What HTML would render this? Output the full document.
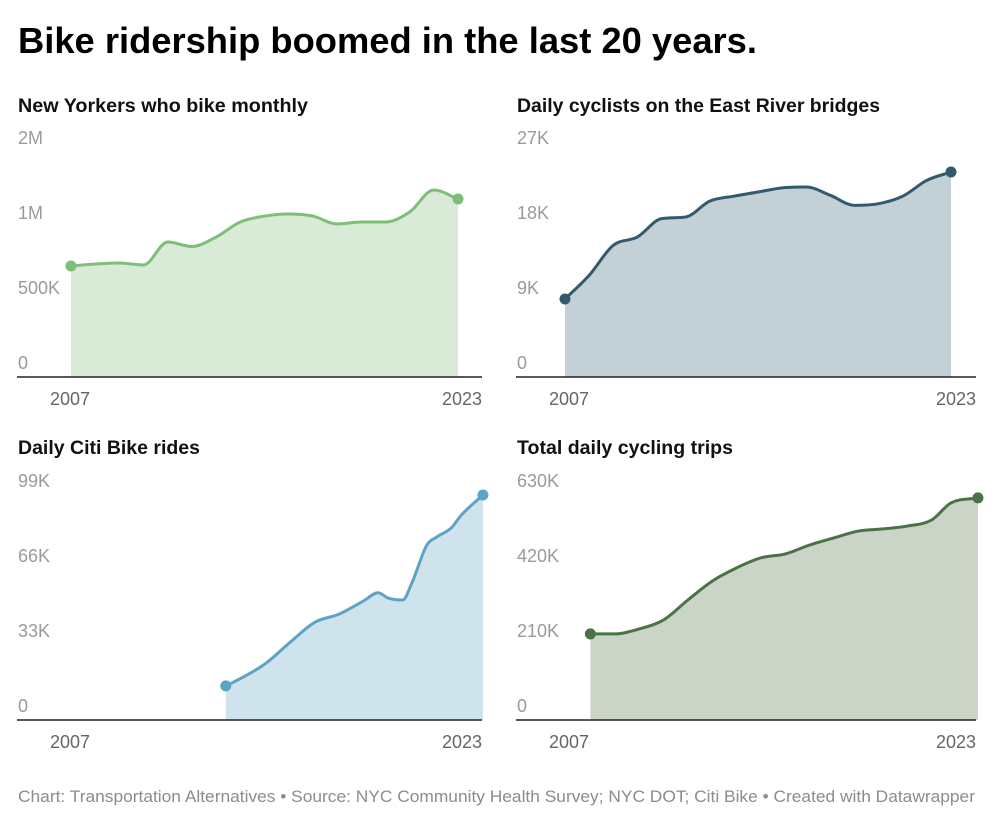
<!DOCTYPE html>
<html><head><meta charset="utf-8"><style>
body{margin:0;background:#fff;}
svg{display:block;font-family:"Liberation Sans",sans-serif;}
</style></head><body>
<svg id="s" width="1000" height="824" viewBox="0 0 1000 824">
<text x="18" y="53" font-size="36" font-weight="bold" fill="#000" textLength="739" lengthAdjust="spacingAndGlyphs">Bike ridership boomed in the last 20 years.</text>
<text x="18" y="802" font-size="17" fill="#8c8c8c" textLength="957" lengthAdjust="spacingAndGlyphs">Chart: Transportation Alternatives • Source: NYC Community Health Survey; NYC DOT; Citi Bike • Created with Datawrapper</text>
</svg>
<script>
const p1Years=[2007,2008,2009,2010,2011,2012,2013,2014,2015,2016,2017,2018,2019,2020,2021,2022,2023];
const p1Values=[740000,753000,760000,747000,900000,870000,933000,1033000,1073000,1087000,1073000,1020000,1033000,1033000,1100000,1247000,1187000];
const p1Ticks=[0,500000,1000000,1500000];
const p1TickLabels=["0","500K","1M","2M"];
const p2Years=[2007,2008,2009,2010,2011,2012,2013,2014,2015,2016,2017,2018,2019,2020,2021,2022,2023];
const p2Values=[9360,12200,15800,16800,19000,19200,21100,21700,22200,22700,22800,21800,20600,20800,21700,23600,24600];
const p2Ticks=[0,9000,18000,27000];
const p2TickLabels=["0","9K","18K","27K"];
const p3Years=[2013.35,2014,2015,2016,2017,2018,2019,2019.6,2020,2020.6,2021,2021.6,2022,2022.6,2023,2023.9];
const p3Values=[15000,18500,25000,34300,43000,46600,52400,56000,53700,52800,60700,77000,80500,84500,90000,99000];
const p3Ticks=[0,33000,66000,99000];
const p3TickLabels=["0","33K","66K","99K"];
const p4Years=[2008,2009,2010,2011,2012,2013,2014,2015,2016,2017,2018,2019,2020,2021,2022,2022.8,2023.9];
const p4Values=[241000,241000,255000,280000,336000,389000,426000,454000,465000,490000,510000,529000,535000,543000,560000,608000,622000];
const p4Ticks=[0,210000,420000,630000];
const p4TickLabels=["0","210K","420K","630K"];

const NS="http://www.w3.org/2000/svg";
const svg=document.getElementById('s');
function mk(tag,attrs,parent){const e=document.createElementNS(NS,tag);for(const k in attrs)e.setAttribute(k,attrs[k]);(parent||svg).appendChild(e);return e;}

function monotone(pts){
  const n=pts.length;if(n<2)return "";
  const d=[],m=[];
  for(let i=0;i<n-1;i++)d.push((pts[i+1][1]-pts[i][1])/(pts[i+1][0]-pts[i][0]));
  m[0]=d[0];m[n-1]=d[n-2];
  for(let i=1;i<n-1;i++){m[i]=(d[i-1]*d[i]<=0)?0:(d[i-1]+d[i])/2;}
  for(let i=0;i<n-1;i++){if(d[i]===0){m[i]=0;m[i+1]=0;continue;}const a=m[i]/d[i],b=m[i+1]/d[i],s=a*a+b*b;if(s>9){const t=3/Math.sqrt(s);m[i]=t*a*d[i];m[i+1]=t*b*d[i];}}
  let p="M"+pts[0][0]+","+pts[0][1];
  for(let i=0;i<n-1;i++){const h=(pts[i+1][0]-pts[i][0])/3;
    p+=" C"+(pts[i][0]+h)+","+(pts[i][1]+m[i]*h)+" "+(pts[i+1][0]-h)+","+(pts[i+1][1]-m[i+1]*h)+" "+pts[i+1][0]+","+pts[i+1][1];}
  return p;
}

function panel(o){
  const g=mk('g',{});
  
  
  const t=mk('text',{x:o.left,y:o.top+14,'font-size':19.5,'font-weight':'bold',fill:'#111',textLength:o.titleLen,lengthAdjust:'spacingAndGlyphs'},g);t.textContent=o.title;
  
  
  const x=v=>o.x0+(v-2007)*(o.x1-o.x0)/16;
  const y=v=>o.base-v*o.pxPerUnit;
  const pts=o.years.map((yr,i)=>[x(yr),y(o.values[i])]);
  const line=monotone(pts);
  const area=mk('path',{d:line+" L"+pts[pts.length-1][0]+","+o.base+" L"+pts[0][0]+","+o.base+" Z",fill:o.fill},g);
  
  
  const ln=mk('path',{d:line,fill:'none',stroke:o.color,'stroke-width':3},g);
  
  
  [pts[0],pts[pts.length-1]].forEach((p,i)=>{const c=mk('circle',{cx:p[0],cy:p[1],r:5.5,fill:o.color},g);
    
    });
  o.ticks.forEach((tv,i)=>{const tt=mk('text',{x:o.left,y:y(tv)-8,'font-size':18,fill:'#9a9a9a'},g);tt.textContent=o.tickLabels[i];
    
    });
  const ax=mk('line',{x1:o.left-1,x2:o.right,y1:o.base,y2:o.base,stroke:'#222','stroke-width':1.5},g);
  
  
  [[2007,'start'],[2023,'end']].forEach(([yr,anc])=>{const lx=anc==='start'?o.left+32:o.right;const tt=mk('text',{x:lx,y:o.base+28,'font-size':18,fill:'#666','text-anchor':anc},g);tt.textContent=yr;
    
    });
}
panel({name:'new-yorkers-bike-monthly',title:'New Yorkers who bike monthly',titleLen:290,left:18,right:482,top:98,base:377,x0:71,x1:458,pxPerUnit:75/500000,years:p1Years,values:p1Values,ticks:p1Ticks,tickLabels:p1TickLabels,color:'#7dbf78',fill:'#d9ebd7'});
panel({name:'east-river-bridges',title:'Daily cyclists on the East River bridges',titleLen:363,left:517,right:976,top:98,base:377,x0:565,x1:951,pxPerUnit:75/9000,years:p2Years,values:p2Values,ticks:p2Ticks,tickLabels:p2TickLabels,color:'#33596d',fill:'#c3d1d7'});
panel({name:'citi-bike-rides',title:'Daily Citi Bike rides',titleLen:182,left:18,right:482,top:440,base:720,x0:71,x1:461,pxPerUnit:75/33000,years:p3Years,values:p3Values,ticks:p3Ticks,tickLabels:p3TickLabels,color:'#5ea3c3',fill:'#cfe3ec'});
panel({name:'total-cycling-trips',title:'Total daily cycling trips',titleLen:216,left:517,right:976,top:440,base:720,x0:566,x1:956,pxPerUnit:75/210000,years:p4Years,values:p4Values,ticks:p4Ticks,tickLabels:p4TickLabels,color:'#4b7246',fill:'#cad5c8'});
</script>
</body></html>
